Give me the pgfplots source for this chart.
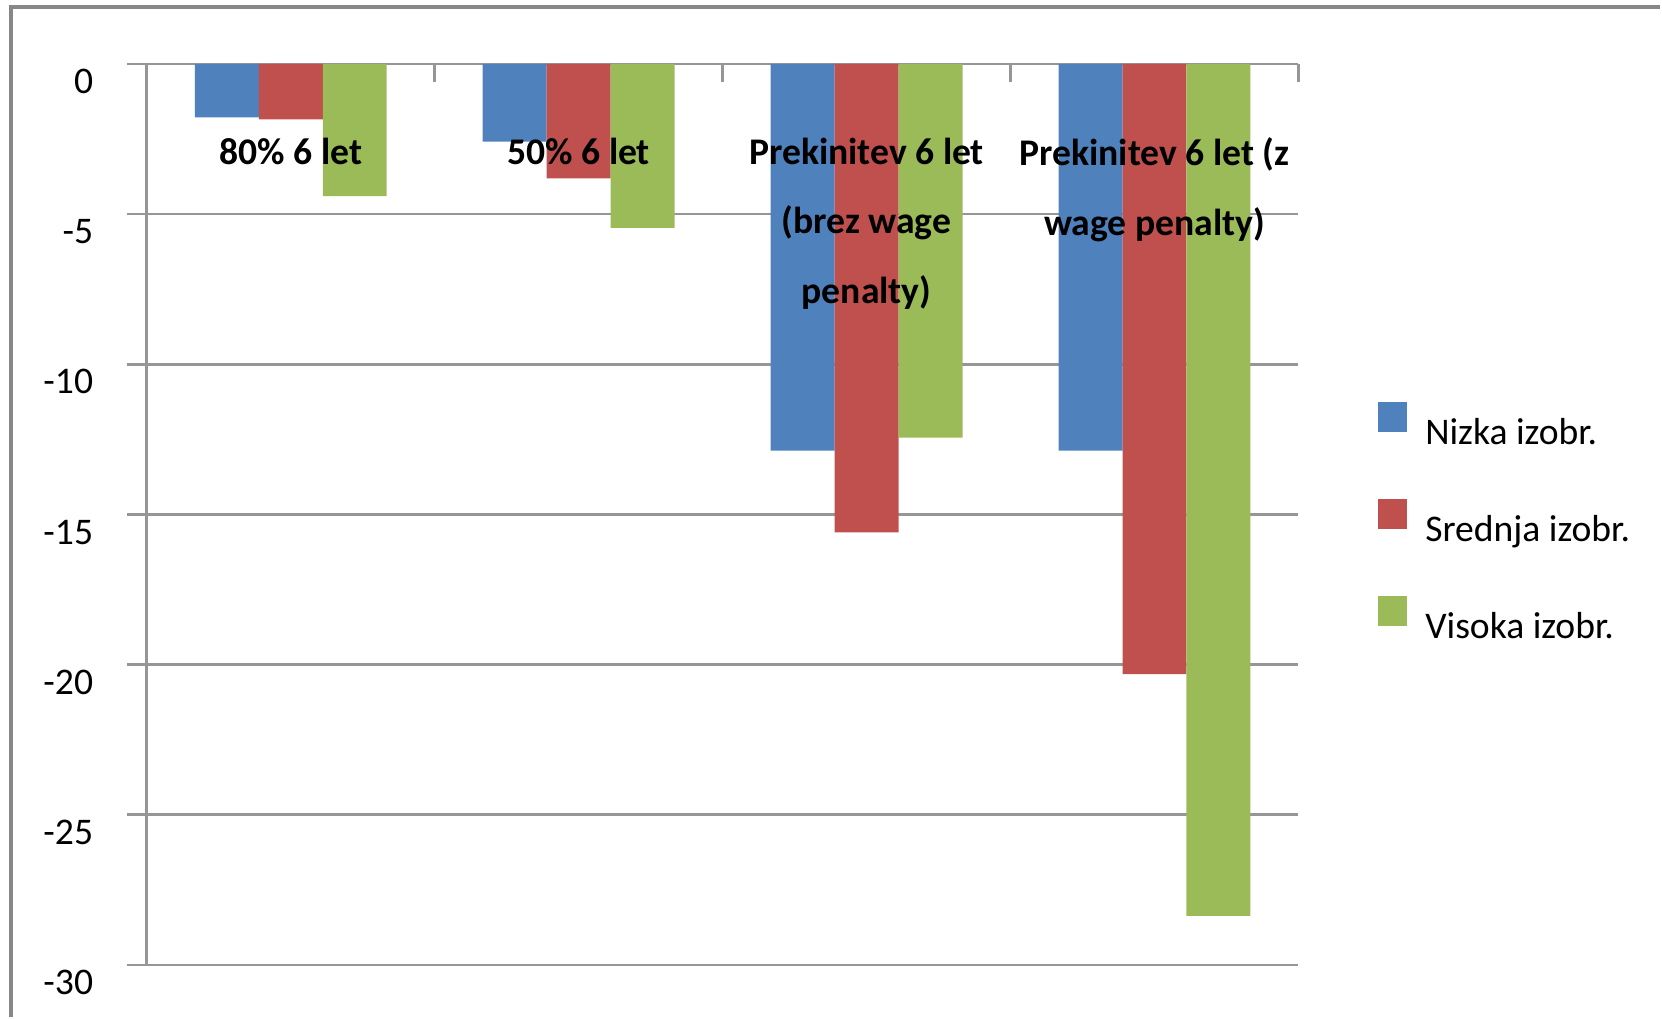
\documentclass[border=0pt]{standalone}
\usepackage{fontspec}
\setmainfont{Carlito}
\usepackage{pgfplots}
\pgfplotsset{compat=1.18}
\definecolor{nizka}{HTML}{4F81BD}
\definecolor{srednja}{HTML}{C0504D}
\definecolor{visoka}{HTML}{9BBB59}
\definecolor{osi}{HTML}{969696}
\definecolor{okvir}{HTML}{878787}
% oznake kategorij morajo biti nad stolpci
\pgfplotsset{
  layers/nadstolpci/.define layer set={
    axis background,axis grid,axis ticks,axis lines,main,axis tick labels,axis descriptions,axis foreground
  }{
    grid style={/pgfplots/on layer=axis grid},
    tick style={/pgfplots/on layer=axis ticks},
    axis line style={/pgfplots/on layer=axis lines},
    label style={/pgfplots/on layer=axis descriptions},
    legend style={/pgfplots/on layer=axis descriptions},
    title style={/pgfplots/on layer=axis descriptions},
    ticklabel style={/pgfplots/on layer=axis tick labels},
  },
}
\begin{document}
\begin{tikzpicture}
\path[draw=none, fill=none] (-44.1pt,-15.6pt) rectangle (454.5pt,289.8pt);
% okvir grafa (viden samo levo in zgoraj)
\draw[okvir, line width=1.2pt] (-40.9pt,-15.6pt) -- (-40.9pt,287.7pt) -- (454.5pt,287.7pt);
\begin{axis}[
  set layers=nadstolpci,
  at={(0,0)}, anchor=south west,
  scale only axis, width=345.9pt, height=270.6pt,
  xmin=-0.5, xmax=3.5, ymin=-30, ymax=0,
  axis x line*=top, axis y line*=left,
  axis line style={osi, line width=0.8pt},
  ybar, bar width=0.2222,
  ytick={-30,-25,...,0},
  yticklabels={-30,-25,-20,-15,-10,-5,0},
  ymajorgrids, major grid style={osi, line width=0.8pt},
  tick align=outside, major tick length=6pt, minor tick length=5.4pt,
  tick style={osi, line width=0.8pt},
  xtick={0,1,2,3}, minor xtick={-0.5,0.5,1.5,2.5,3.5},
  major x tick style={draw=none},
  minor x tick style={yshift=-5.4pt},
  xticklabels={80\% 6 let, 50\% 6 let, {Prekinitev 6 let\\(brez wage\\penalty)}, {Prekinitev 6 let (z\\wage penalty)}},
  xticklabel style={font=\fontsize{11.3}{21}\selectfont\bfseries, align=center, anchor=north, yshift=-24.6pt},
  yticklabel style={font=\fontsize{11.3}{13.6}\selectfont, xshift=-6.6pt, yshift=-5.3pt},
  legend style={draw=none, fill=none, at={(1.0694,0.6242)}, anchor=north west,
    inner sep=0pt, outer sep=0pt, row sep=0pt, column sep=5.4pt,
    font=\fontsize{11.3}{13.6}\selectfont,
    nodes={inner sep=0pt, text height=8pt, text depth=2pt}},
  legend cell align=left,
  legend image code/.code={\path[draw=none, fill=none] (0pt,-19.5pt) rectangle (8.7pt,9.6pt);
    \fill[#1] (0pt,0.6pt) rectangle (8.7pt,9.6pt);},
]
\addplot[fill=nizka, draw=none, bar shift=-0.2222] coordinates {(0,-1.78) (1,-2.59) (2,-12.88) (3,-12.88)};
\addplot[fill=srednja, draw=none, bar shift=0] coordinates {(0,-1.85) (1,-3.81) (2,-15.6) (3,-20.32)};
\addplot[fill=visoka, draw=none, bar shift=0.2222] coordinates {(0,-4.40) (1,-5.46) (2,-12.44) (3,-28.37)};
\legend{Nizka izobr., Srednja izobr., Visoka izobr.}
\end{axis}
\end{tikzpicture}
\end{document}
